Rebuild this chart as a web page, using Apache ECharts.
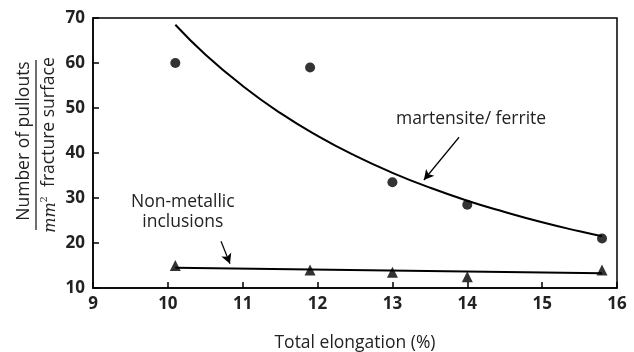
<!DOCTYPE html>
<html><head><meta charset="utf-8">
<script src="https://cdn.jsdelivr.net/npm/echarts@6/dist/echarts.min.js"></script>
<style>html,body{margin:0;padding:0;background:#fff}#c{width:634px;height:352px}</style>
</head><body><div id="c"></div>
<script>
var elongation = [10.1, 11.9, 13, 14, 15.8];
var martensiteFerrite = [60, 59, 33.5, 28.5, 21];
var nonMetallic = [15, 14, 13.5, 12.5, 14];
var fitX = [10.1, 10.5, 11, 11.5, 12, 12.5, 13, 13.5, 14, 14.5, 15, 15.5, 15.8];
var fitMartensite = [68.5, 61.9, 54.9, 48.9, 43.8, 39.4, 35.6, 32.3, 29.4, 26.9, 24.6, 22.6, 21.5];
var fitInclX = [10.1, 15.8];
var fitIncl = [14.5, 13.3];
var xTicks = [9, 10, 11, 12, 13, 14, 15, 16];
var yTicks = [10, 20, 30, 40, 50, 60, 70];

function pairs(xs, ys){ return xs.map(function(x,i){ return [x, ys[i]]; }); }
var FONT = '"Open Sans"';
var TXT = 17.5;
var chart = echarts.init(document.getElementById('c'));
chart.setOption({
  animation:false,
  backgroundColor:'#fff',
  grid:{left:93, right:17, top:18, bottom:64, outerBoundsMode:'none', containLabel:false, show:true, borderColor:'#000', borderWidth:1.5, backgroundColor:'transparent'},
  xAxis:{type:'value', min:xTicks[0], max:xTicks[xTicks.length-1], interval:1,
    axisLine:{lineStyle:{color:'#000', width:1.5}},
    axisTick:{inside:true, length:6, lineStyle:{color:'#000', width:1.5}},
    axisLabel:{color:'#222', fontFamily:FONT, fontWeight:'bold', fontSize:17, margin:8},
    splitLine:{show:false},
    name:'Total elongation (%)', nameLocation:'middle', nameGap:46,
    nameTextStyle:{color:'#222', fontFamily:FONT, fontSize:TXT}},
  yAxis:{type:'value', min:yTicks[0], max:yTicks[yTicks.length-1], interval:10,
    axisLine:{lineStyle:{color:'#000', width:1.5}},
    axisTick:{inside:true, length:6, lineStyle:{color:'#000', width:1.5}},
    axisLabel:{color:'#222', fontFamily:FONT, fontWeight:'bold', fontSize:17, margin:8},
    splitLine:{show:false}},
  graphic:[{
    type:'group', x:36, y:145, rotation:Math.PI/2,
    children:[
      {type:'text', x:4, y:-3, style:{text:'Number of pullouts', fill:'#222', font:TXT+'px '+FONT, align:'center', verticalAlign:'bottom'}},
      {type:'line', shape:{x1:-85, y1:0, x2:85, y2:0}, style:{stroke:'#222', lineWidth:1.3}},
      {type:'text', x:0, y:3, style:{
        text:'{m|mm}{s|2}{n|  fracture surface}', align:'center', verticalAlign:'top',
        rich:{
          m:{fontFamily:'DejaVu Serif', fontStyle:'italic', fontSize:16, fill:'#222', verticalAlign:'bottom', lineHeight:20},
          s:{fontFamily:'DejaVu Serif', fontSize:10, fill:'#222', verticalAlign:'top', lineHeight:20},
          n:{fontFamily:FONT, fontSize:TXT, fill:'#222', lineHeight:20}
        }}}
    ]}],
  series:[
    {type:'line', data:pairs(fitX, fitMartensite), smooth:true, symbol:'none', lineStyle:{color:'#000', width:2}, z:2,
      markLine:{silent:true, symbol:['none','arrow'], symbolSize:[8,10], lineStyle:{color:'#000', width:1.2, type:'solid'}, label:{show:false},
        data:[[{coord:[13.89, 43.5]}, {coord:[13.42, 34.0]}]]},
      markPoint:{symbol:'circle', symbolSize:1, itemStyle:{color:'transparent'},
        label:{show:true, position:'inside', color:'#222', fontFamily:FONT, fontSize:TXT, formatter:'{b}'},
        data:[{name:'martensite/ ferrite', coord:[14.05, 47.6]}]}},
    {type:'line', data:pairs(fitInclX, fitIncl), symbol:'none', lineStyle:{color:'#000', width:2}, z:2,
      markLine:{silent:true, symbol:['none','arrow'], symbolSize:[8,10], lineStyle:{color:'#000', width:1.2, type:'solid'}, label:{show:false},
        data:[[{coord:[10.71, 20.4]}, {coord:[10.83, 15.4]}]]},
      markPoint:{symbol:'circle', symbolSize:1, itemStyle:{color:'transparent'},
        label:{show:true, position:'inside', color:'#222', fontFamily:FONT, fontSize:TXT, lineHeight:20, align:'center', formatter:'Non-metallic\ninclusions'},
        data:[{name:'nm', coord:[10.2, 26.9]}]}},
    {type:'scatter', data:pairs(elongation, martensiteFerrite), symbol:'circle', symbolSize:10, itemStyle:{color:'#000'}, z:3},
    {type:'scatter', data:pairs(elongation, nonMetallic), symbol:'triangle', symbolSize:11, itemStyle:{color:'#000'}, z:3}
  ]
});
</script></body></html>
